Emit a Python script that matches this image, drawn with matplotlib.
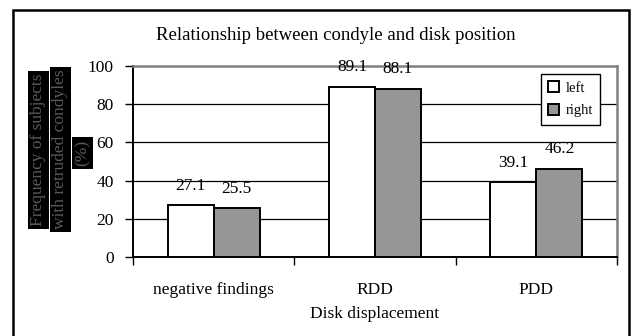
import numpy as np
import matplotlib as mpl
mpl.use('Agg')
import matplotlib.pyplot as plt
from matplotlib.patches import Patch, Rectangle

plt.rcParams['font.family'] = ['Liberation Serif', 'DejaVu Serif']

categories = ['negative findings', 'RDD', 'PDD']
left_vals = [27.1, 89.1, 39.1]
right_vals = [25.5, 88.1, 46.2]
series_names = ['left', 'right']
ylabel_lines = ['Frequency of subjects', 'with retruded condyles', '(%)']

W, H = 632, 336
fig = plt.figure(figsize=(W / 100, H / 100), dpi=100)

# outer frame around the whole chart
fig.patches.append(Rectangle((13 / W, -0.05), (629 - 13) / W, 1.05 - 10 / H,
                             transform=fig.transFigure, fill=False,
                             ec='black', lw=1.8))

ax = fig.add_axes([133 / W, 1 - 257 / H, (617 - 133) / W, (257 - 66) / H])

x = np.arange(len(categories))
w = 0.285
b1 = ax.bar(x - w / 2, left_vals, w, color='white', edgecolor='black', lw=1.4, zorder=3)
b2 = ax.bar(x + w / 2, right_vals, w, color='#969696', edgecolor='black', lw=1.4, zorder=3)

for bars, vals in [(b1, left_vals), (b2, right_vals)]:
    for r, v in zip(bars, vals):
        ax.annotate(f'{v}', (r.get_x() + r.get_width() / 2, v), xytext=(0, 14),
                    textcoords='offset points', ha='center', va='center',
                    fontsize=12.5, zorder=4)

ax.set_xlim(-0.5, 2.5)
ax.set_ylim(0, 100)
ax.set_yticks(np.arange(0, 101, 20))
for g in [20, 40, 60, 80]:
    ax.axhline(g, color='black', lw=0.9, zorder=1)

ax.set_xticks(x)
ax.set_xticklabels(categories, fontsize=12.5)
ax.set_xticks([-0.5, 0.5, 1.5, 2.5], minor=True)
ax.tick_params(axis='x', which='major', length=0, pad=18)
ax.tick_params(axis='x', which='minor', length=6, width=1, direction='out')
ax.tick_params(axis='y', length=6, width=1, pad=8, labelsize=12.5)

for s in ['top', 'right']:
    ax.spines[s].set_color('#808080')
    ax.spines[s].set_linewidth(1.8)
ax.spines['left'].set_linewidth(1.4)
ax.spines['bottom'].set_linewidth(1.4)

ax.set_xlabel('Disk displacement', fontsize=12.5, labelpad=6)

handles = [Patch(fc='white', ec='black', lw=1.4), Patch(fc='#969696', ec='black', lw=1.4)]
leg = ax.legend(handles, series_names, loc='upper right',
                bbox_to_anchor=((600 - 133) / 484, (257 - 74) / 191),
                fontsize=10.5, fancybox=False, framealpha=1, edgecolor='black',
                handlelength=0.8, handleheight=0.8, handletextpad=0.4,
                borderpad=0.5, labelspacing=0.6, borderaxespad=0)
leg.get_frame().set_linewidth(1)

fig.text(336 / W, 1 - 35 / H, 'Relationship between condyle and disk position',
         ha='center', va='center', fontsize=13.5)

# y-axis caption rendered as dark blocks like the source
for xc, yc, txt in [(38.5, 150, ylabel_lines[0]), (60.5, 149.5, ylabel_lines[1]),
                    (82.5, 153, ylabel_lines[2])]:
    fig.text(xc / W, 1 - yc / H, txt, rotation=90, ha='center', va='center',
             fontsize=12.5, color='#5a5a5a',
             bbox=dict(fc='black', ec='none', pad=2))

fig.savefig('out.png', dpi=100)
